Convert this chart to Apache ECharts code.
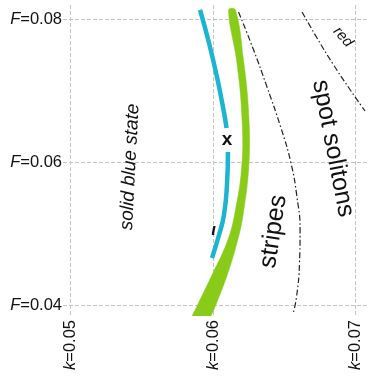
<!DOCTYPE html>
<html><head><meta charset="utf-8">
<style>html,body{margin:0;padding:0;background:#fff}#c{width:368px;height:376px}</style>
<script src="https://cdn.jsdelivr.net/npm/echarts@6/dist/echarts.min.js"></script>
</head><body><div id="c"></div>
<script>
// tick values
const kTicks = [0.05, 0.06, 0.07];
const fTicks = [0.04, 0.06, 0.08];
// cyan curve (two parts, broken around the "x")
const cyanUpperK = [0.05909, 0.05972, 0.06028, 0.06074, 0.06095];
const cyanUpperF = [0.08133, 0.07671, 0.07195, 0.06733, 0.06481];
const cyanLowerK = [0.06105, 0.06098, 0.06077, 0.06042, 0.05993];
const cyanLowerF = [0.06146, 0.05684, 0.05264, 0.04984, 0.04662];
// green band (left / right edges)
const greenF      = [0.08133, 0.07433, 0.06733, 0.06006, 0.05264, 0.04872, 0.04396, 0.03962, 0.03850, 0.03724];
const greenLeftK  = [0.06109, 0.06165, 0.06200, 0.06204, 0.06151, 0.06096, 0.05986, 0.05881, 0.05853, 0.05821];
const greenRightK = [0.06158, 0.06214, 0.06249, 0.06253, 0.06211, 0.06168, 0.06095, 0.06011, 0.05986, 0.05958];
// dash-dot boundaries
const line1K = [0.06179, 0.06277, 0.06379, 0.06477, 0.06547, 0.06589, 0.06611, 0.06607, 0.06586, 0.06561];
const line1F = [0.08105, 0.07615, 0.07055, 0.06481, 0.05992, 0.05516, 0.05054, 0.04592, 0.04116, 0.03878];
const line2K = [0.06625, 0.06730, 0.06842, 0.06954, 0.07067];
const line2F = [0.08105, 0.07741, 0.07377, 0.07041, 0.06719];

const FONT = '"Liberation Sans", Arial, Helvetica, sans-serif';
const zip = (a, b) => a.map((v, i) => [v, b[i]]);
const GREEN = '#88cb18', CYAN = '#1db4d1';
const dashDot = {color: '#222', width: 1.2, type: [6, 2.5, 1.5, 2.5]};

const chart = echarts.init(document.getElementById('c'), null, {renderer: 'canvas'});
const deg = d => d * Math.PI / 180;
chart.setOption({
  animation: false,
  backgroundColor: '#fff',
  grid: {left: 63, right: 0, top: 5, bottom: 60},
  xAxis: {
    type: 'value', min: 0.049474, max: 0.070877,
    axisLine: {show: false},
    axisTick: {show: false, customValues: kTicks},
    axisLabel: {
      customValues: kTicks, rotate: 90, margin: 4,
      formatter: v => '{i|k}=' + v.toFixed(2),
      color: '#111', fontSize: 16.5, fontFamily: FONT,
      rich: {i: {fontStyle: 'italic', fontSize: 16.5, fontFamily: FONT, color: '#111'}}
    },
    splitLine: {show: true, lineStyle: {color: '#c4c4c4', width: 1, type: [4, 2]}}
  },
  yAxis: {
    type: 'value', min: 0.038502, max: 0.082029,
    axisLine: {show: false},
    axisTick: {show: false, customValues: fTicks},
    axisLabel: {
      customValues: fTicks, margin: 1,
      formatter: v => '{i|F}=' + v.toFixed(2),
      color: '#111', fontSize: 16.5, fontFamily: FONT,
      rich: {i: {fontStyle: 'italic', fontSize: 16.5, fontFamily: FONT, color: '#111'}}
    },
    splitLine: {show: true, lineStyle: {color: '#c4c4c4', width: 1, type: [4, 2]}}
  },
  series: [
    {type: 'line', data: zip(line1K, line1F), smooth: 0.5, symbol: 'none', lineStyle: dashDot, z: 3},
    {type: 'line', data: zip(line2K, line2F), smooth: 0.5, symbol: 'none', lineStyle: dashDot, z: 3},
    {
      type: 'custom', clip: true, z: 4,
      data: [[greenLeftK[0], greenF[0]]],
      renderItem: (params, api) => {
        const left = greenF.map((f, i) => api.coord([greenLeftK[i], f]));
        const right = greenF.map((f, i) => api.coord([greenRightK[i], f])).reverse();
        return {type: 'polygon', shape: {points: left.concat(right), smooth: 0.4},
                style: {fill: GREEN, stroke: GREEN, lineWidth: 0.5}};
      }
    },
    {type: 'line', data: zip(cyanUpperK, cyanUpperF), smooth: 0.5, symbol: 'none', lineStyle: {color: CYAN, width: 4.5, cap: 'butt'}, z: 5},
    {type: 'line', data: zip(cyanLowerK, cyanLowerF), smooth: 0.5, symbol: 'none', lineStyle: {color: CYAN, width: 4.5, cap: 'butt'}, z: 5}
  ],
  graphic: [
    {type: 'text', x: 130, y: 167, rotation: deg(87), z: 10,
     style: {text: 'solid blue state', font: 'italic 19px ' + FONT, fill: '#111', align: 'center', verticalAlign: 'middle'}},
    {type: 'text', x: 273.5, y: 231.5, rotation: deg(81.4), z: 10,
     style: {text: 'stripes', font: '25px ' + FONT, fill: '#111', align: 'center', verticalAlign: 'middle'}},
    {type: 'text', x: 333, y: 148.5, rotation: deg(-79), z: 10,
     style: {text: 'spot solitons', font: '25px ' + FONT, fill: '#111', align: 'center', verticalAlign: 'middle'}},
    {type: 'text', x: 343, y: 37, rotation: deg(-48), z: 10,
     style: {text: 'red', font: 'italic 15px ' + FONT, fill: '#111', align: 'center', verticalAlign: 'middle'}},
    {type: 'text', x: 227, y: 140, z: 10,
     style: {text: 'x', font: 'bold 19px ' + FONT, fill: '#111', align: 'center', verticalAlign: 'middle'}},
    {type: 'text', x: 213.5, y: 230, z: 10,
     style: {text: 'ι', font: 'italic bold 17px ' + FONT, fill: '#111', align: 'center', verticalAlign: 'middle'}}
  ]
});
</script></body></html>
